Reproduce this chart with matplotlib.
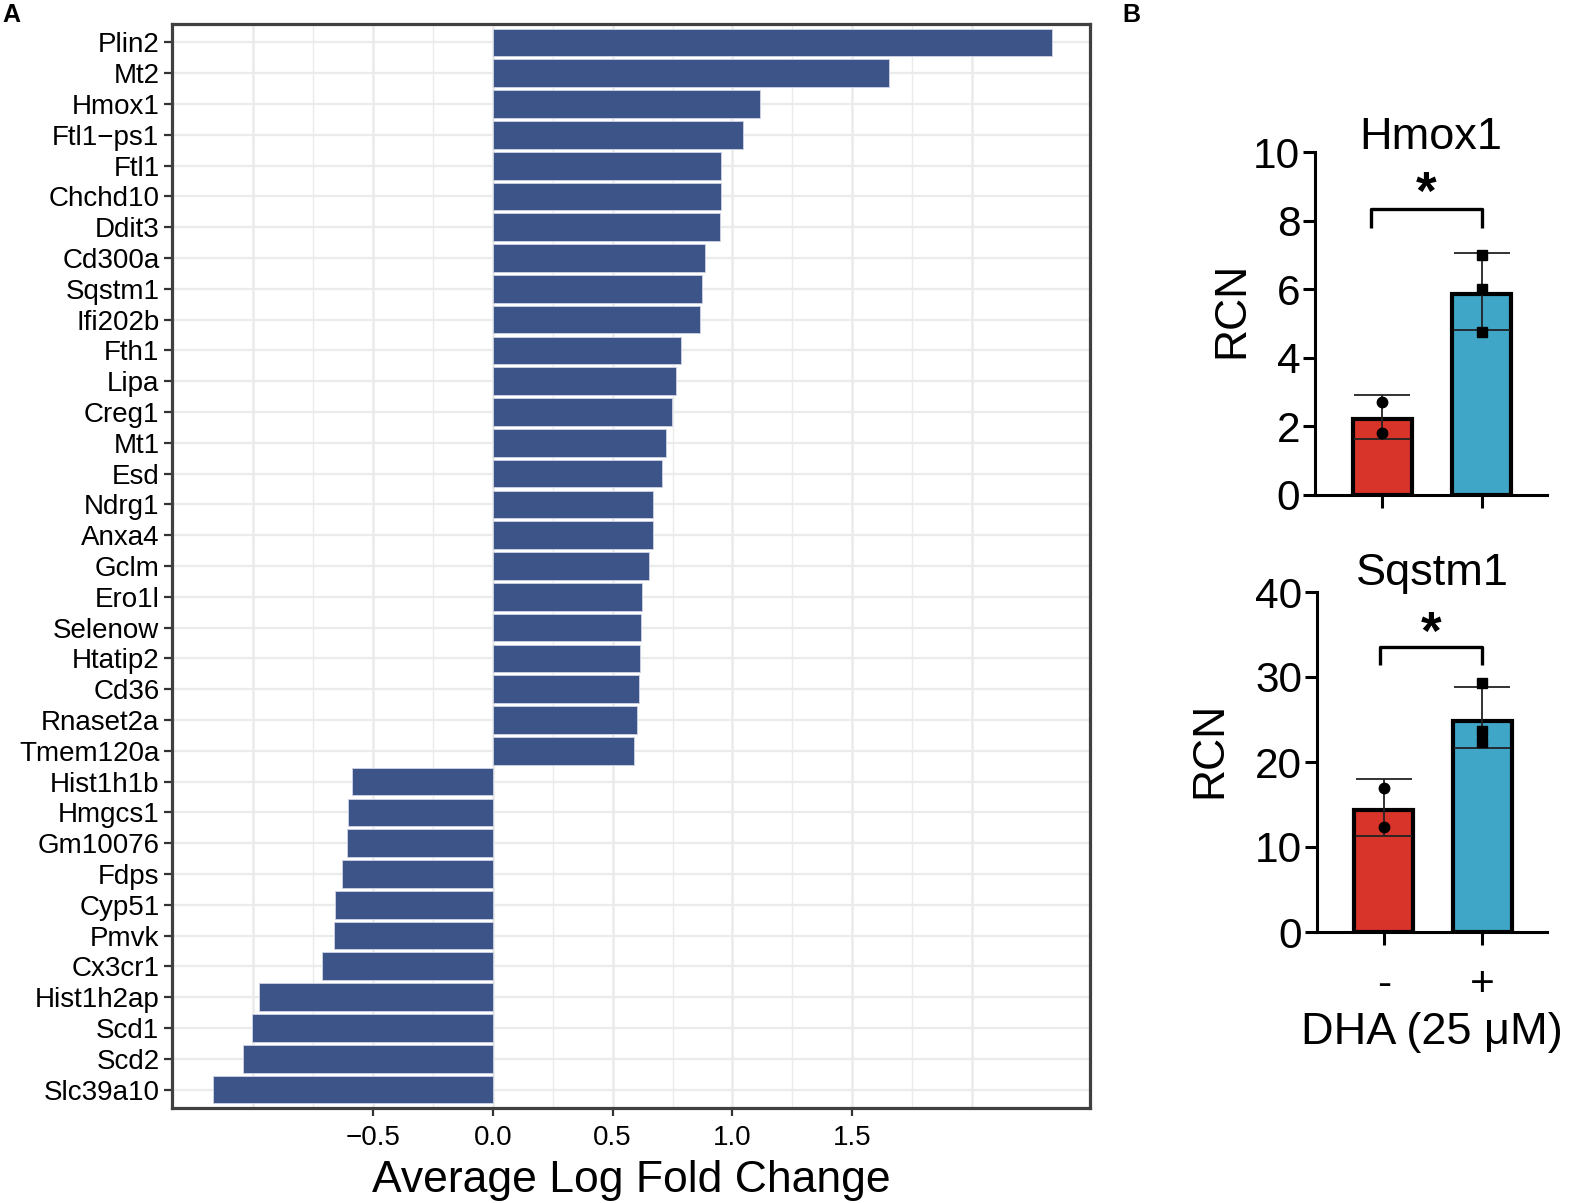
import matplotlib.pyplot as plt
import numpy as np

plt.rcParams['font.family'] = ['Liberation Sans', 'DejaVu Sans']

# panel A: average log fold change per gene (top to bottom)
genes = ["Plin2", "Mt2", "Hmox1", "Ftl1\u2212ps1", "Ftl1", "Chchd10", "Ddit3", "Cd300a",
         "Sqstm1", "Ifi202b", "Fth1", "Lipa", "Creg1", "Mt1", "Esd", "Ndrg1", "Anxa4",
         "Gclm", "Ero1l", "Selenow", "Htatip2", "Cd36", "Rnaset2a", "Tmem120a",
         "Hist1h1b", "Hmgcs1", "Gm10076", "Fdps", "Cyp51", "Pmvk", "Cx3cr1",
         "Hist1h2ap", "Scd1", "Scd2", "Slc39a10"]
avg_logfc = [2.335, 1.655, 1.113, 1.043, 0.954, 0.954, 0.947, 0.887,
             0.874, 0.865, 0.787, 0.766, 0.748, 0.723, 0.705, 0.669, 0.669,
             0.653, 0.623, 0.620, 0.614, 0.609, 0.603, 0.589,
             -0.588, -0.603, -0.608, -0.629, -0.657, -0.661, -0.714,
             -0.974, -1.005, -1.041, -1.168]
xtick_vals = [-0.5, 0.0, 0.5, 1.0, 1.5]
xtick_labels = ["\u22120.5", "0.0", "0.5", "1.0", "1.5"]

# panel B: qPCR, DHA - / +
conditions = ["-", "+"]
hmox1_mean = [2.21, 5.86]
hmox1_err_lo = [1.63, 4.81]
hmox1_err_hi = [2.92, 7.05]
hmox1_pts = [[2.72, 1.82], [7.0, 6.01, 4.75]]
sqstm1_mean = [14.3, 24.8]
sqstm1_err_lo = [11.3, 21.6]
sqstm1_err_hi = [18.0, 28.8]
sqstm1_pts = [[17.0, 12.3], [29.3, 23.7, 22.4]]

W, H = 1572, 1203
fig = plt.figure(figsize=(W / 100, H / 100), dpi=100)


def px_axes(left, top, right, bottom):
    return fig.add_axes([left / W, 1 - bottom / H, (right - left) / W, (bottom - top) / H])


# ---------------- panel A ----------------
ax = px_axes(172, 24, 1090, 1108)
n = len(genes)
ypos = np.arange(n)[::-1]
for y in ypos:
    ax.axhline(y, color='#ebebeb', lw=1.6, zorder=0)
for xv in np.arange(-1.0, 2.01, 0.25):
    major = abs((xv * 2) - round(xv * 2)) < 1e-6
    ax.axvline(xv, color='#ebebeb', lw=1.8 if major else 1.0, zorder=0)
ax.barh(ypos, avg_logfc, height=0.9, color='#3c5488', edgecolor='#c9cfe0', linewidth=0.7, zorder=2)
ax.set_xlim(-1.339, 2.492)
ax.set_ylim(-0.6, n - 0.4)
ax.set_yticks(ypos)
ax.set_yticklabels(genes, fontsize=20)
ax.set_xticks(xtick_vals)
ax.set_xticklabels(xtick_labels, fontsize=20)
ax.tick_params(axis='both', length=6, width=1.6, color='#333333', pad=3)
ax.tick_params(axis='x', pad=6)
for s in ax.spines.values():
    s.set_color('#404040')
    s.set_linewidth(2.3)
ax.set_xlabel("Average Log Fold Change", fontsize=32, labelpad=7)

fig.text(2 / W, 1 - 15 / H, "A", fontsize=18, fontweight='bold', va='center', ha='left')
fig.text(1122 / W, 1 - 15 / H, "B", fontsize=18, fontweight='bold', va='center', ha='left')


# ---------------- panel B ----------------
def qpcr_panel(axb, means, lo, hi, pts, title, title_y, yticks, bracket, star_y, show_x):
    x = np.arange(len(means))
    axb.bar(x, means, width=0.6, color=['#d9342a', '#40a6c8'], edgecolor='black',
            linewidth=3.0, zorder=2)
    yerr = [np.array(means) - np.array(lo), np.array(hi) - np.array(means)]
    axb.errorbar(x, means, yerr=yerr, fmt='none', ecolor='#222222', elinewidth=1.3,
                 capsize=20, capthick=1.3, zorder=3)
    markers = ['o', 's']
    for i, p in enumerate(pts):
        axb.plot([x[i]] * len(p), p, linestyle='none', marker=markers[i], ms=7.5,
                 color='black', zorder=4)
    bx0, bx1, by, bleg = bracket
    axb.plot([bx0, bx0, bx1, bx1], [bleg, by, by, bleg], color='black', lw=2.4,
             solid_capstyle='butt', zorder=3, clip_on=False)
    axb.text((bx0 + bx1) / 2, star_y, "*", fontsize=38, fontweight='bold',
             ha='center', va='center')
    axb.set_xlim(-0.68, 1.66)
    axb.set_ylim(0, yticks[-1])
    axb.set_yticks(yticks)
    axb.tick_params(axis='y', labelsize=30.5, length=8.6, width=2.2, pad=2)
    axb.tick_params(axis='x', labelsize=30.5, length=9.4, width=2.2, pad=14)
    axb.set_xticks(x)
    if show_x:
        axb.set_xticklabels(conditions)
    else:
        axb.set_xticklabels([])
    for side in ['top', 'right']:
        axb.spines[side].set_visible(False)
    for side in ['left', 'bottom']:
        axb.spines[side].set_linewidth(2.2)
    axb.text(0.5, title_y, title, transform=axb.transAxes, fontsize=32.5,
             ha='center', va='baseline')
    axb.set_ylabel("RCN", fontsize=32)


ax1 = px_axes(1315, 152, 1547, 495)
qpcr_panel(ax1, hmox1_mean, hmox1_err_lo, hmox1_err_hi, hmox1_pts, "Hmox1", 1.008,
           [0, 2, 4, 6, 8, 10], (-0.12, 1.0, 8.35, 7.78), 8.75, False)
ax1.yaxis.set_label_coords(-0.268, 0.54)

ax2 = px_axes(1317, 592, 1547, 932)
qpcr_panel(ax2, sqstm1_mean, sqstm1_err_lo, sqstm1_err_hi, sqstm1_pts, "Sqstm1", 1.02,
           [0, 10, 20, 30, 40], (-0.04, 1.0, 33.5, 31.4), 35.0, True)
ax2.yaxis.set_label_coords(-0.376, 0.535)
ax2.text(0.5, -0.295, "DHA (25 \u03bcM)", transform=ax2.transAxes, fontsize=32.5,
         ha='center', va='center')

fig.savefig("out.png", dpi=100)
